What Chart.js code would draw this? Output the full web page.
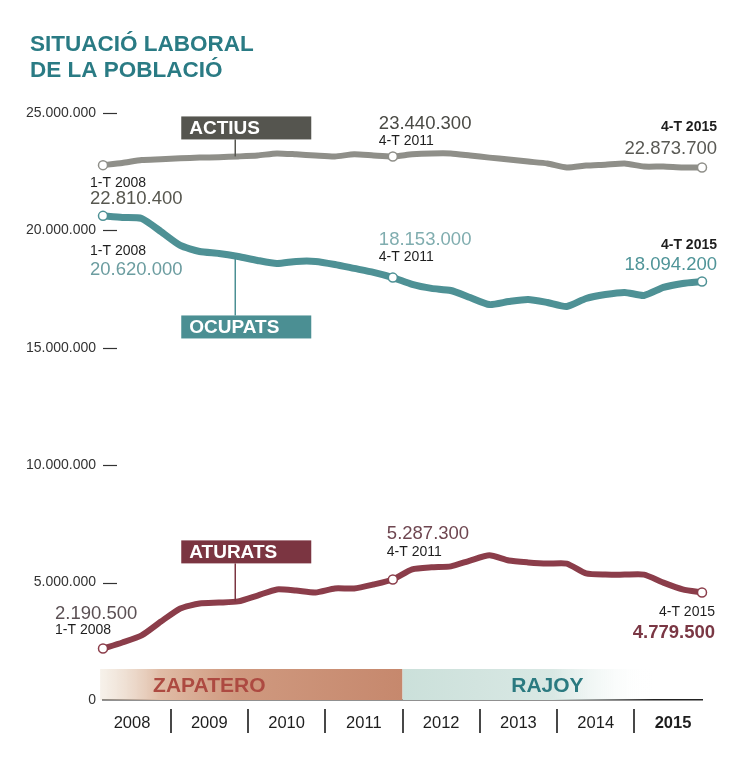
<!DOCTYPE html>
<html lang="ca">
<head>
<meta charset="UTF-8">
<title>Situació laboral de la població</title>
<script src="https://cdn.jsdelivr.net/npm/chart.js@4.4.0/dist/chart.umd.min.js"></script>
<style>
    body { margin: 0; background: #fff; }
    .chart-container { width: 749px; height: 760px; }
</style>
</head>
<body>
<div class="chart-container"><canvas id="myChart"></canvas></div>
<script>
// trimestres 1-T 2008 ... 4-T 2015
const trimestres = [];
for (let a = 2008; a <= 2015; a++) for (let t = 1; t <= 4; t++) trimestres.push(t + '-T ' + a);
const anys = ['2008', '2009', '2010', '2011', '2012', '2013', '2014', '2015'];
const valorsEix = [0, 5000000, 10000000, 15000000, 20000000, 25000000];
const titol = ['SITUACIÓ LABORAL', 'DE LA POBLACIÓ'];

// milions, llegits del gràfic
const actius = [22.78, 22.87, 23.00, 23.03, 23.07, 23.10, 23.12, 23.15,
                23.19, 23.28, 23.24, 23.19, 23.15, 23.24, 23.19, 23.15,
                23.24, 23.28, 23.28, 23.19, 23.10, 23.02, 22.93, 22.85,
                22.68, 22.76, 22.80, 22.85, 22.72, 22.72, 22.68, 22.68];
const ocupats = [20.62, 20.55, 20.51, 19.95, 19.36, 19.10, 19.02, 18.89,
                 18.72, 18.59, 18.68, 18.68, 18.55, 18.38, 18.21, 17.99,
                 17.70, 17.53, 17.44, 17.14, 16.84, 16.97, 17.06, 16.93,
                 16.76, 17.10, 17.27, 17.36, 17.23, 17.57, 17.74, 17.82];
const aturats = [2.19, 2.45, 2.75, 3.34, 3.90, 4.11, 4.15, 4.20,
                 4.45, 4.71, 4.66, 4.58, 4.75, 4.75, 4.92, 5.13,
                 5.56, 5.65, 5.69, 5.94, 6.16, 5.94, 5.86, 5.81,
                 5.81, 5.39, 5.34, 5.34, 5.34, 5.00, 4.71, 4.58];
const marcats = [0, 15, 31];

// períodes de govern, en índex de trimestre
const governs = [
    { nom: 'ZAPATERO', des: -0.15, fins: 15.5 },
    { nom: 'RAJOY', des: 15.5, fins: 28.5 }
];

const estilGoverns = {
    ZAPATERO: { stops: [[0, 'rgba(238,228,214,0.5)'], [0.2, '#e0bca6'], [0.45, '#cf997f'], [1, '#c6886d']], text: '#ad4a41', centre: 5.5 },
    RAJOY: { stops: [[0, '#cbe0da'], [0.6, '#d9e8e4'], [1, 'rgba(255,255,255,0)']], text: '#2b7a80', centre: 23 }
};

const caixes = [
    { text: 'ACTIUS', serie: 0, idx: 7, dy: -40, color: '#55554f' },
    { text: 'OCUPATS', serie: 1, idx: 7, dy: 59, color: '#4b8f93' },
    { text: 'ATURATS', serie: 2, idx: 7, dy: -61, color: '#7b3541' }
];

const textos = [
    { serie: 0, idx: 0, dx: -13, dy: 18, text: '1-T 2008', mida: 14 },
    { serie: 0, idx: 0, dx: -13, dy: 34, text: '22.810.400', mida: 18.5, color: '#57574f' },
    { serie: 0, idx: 15, dx: -14, dy: -33, text: '23.440.300', mida: 18.5, color: '#4a4a45' },
    { serie: 0, idx: 15, dx: -14, dy: -15, text: '4-T 2011', mida: 14 },
    { serie: 0, idx: 31, dx: 15, dy: -40, text: '4-T 2015', mida: 14, bold: true, align: 'right' },
    { serie: 0, idx: 31, dx: 15, dy: -19, text: '22.873.700', mida: 18.5, color: '#595954', align: 'right' },
    { serie: 1, idx: 0, dx: -13, dy: 35, text: '1-T 2008', mida: 14 },
    { serie: 1, idx: 0, dx: -13, dy: 54, text: '20.620.000', mida: 18.5, color: '#6c9da0' },
    { serie: 1, idx: 15, dx: -14, dy: -38, text: '18.153.000', mida: 18.5, color: '#80adaf' },
    { serie: 1, idx: 15, dx: -14, dy: -20, text: '4-T 2011', mida: 14 },
    { serie: 1, idx: 31, dx: 15, dy: -36, text: '4-T 2015', mida: 14, bold: true, align: 'right' },
    { serie: 1, idx: 31, dx: 15, dy: -17, text: '18.094.200', mida: 18.5, color: '#4f9498', align: 'right' },
    { serie: 2, idx: 0, dx: -48, dy: -35, text: '2.190.500', mida: 18.5, color: '#5b5054' },
    { serie: 2, idx: 0, dx: -48, dy: -18, text: '1-T 2008', mida: 14 },
    { serie: 2, idx: 15, dx: -6, dy: -46, text: '5.287.300', mida: 18.5, color: '#6e4650' },
    { serie: 2, idx: 15, dx: -6, dy: -27, text: '4-T 2011', mida: 14 },
    { serie: 2, idx: 31, dx: 13, dy: 20, text: '4-T 2015', mida: 14, align: 'right' },
    { serie: 2, idx: 31, dx: 13, dy: 40, text: '4.779.500', mida: 18.5, bold: true, color: '#7a3744', align: 'right' }
];

const fmt = v => String(v).replace(/\B(?=(\d{3})+(?!\d))/g, '.');
const FONT = "'Liberation Sans', Arial, sans-serif";
Chart.defaults.font.family = FONT;

const series = [actius, ocupats, aturats];
const punts = arr => arr.map((v, i) => ({ x: i, y: v * 1000000 }));

function pixel(chart, serie, idx) {
    const { x, y } = chart.scales;
    return [x.getPixelForValue(idx), y.getPixelForValue(series[serie][idx] * 1000000)];
}

const decoracio = {
    id: 'decoracio',
    beforeDatasetsDraw(chart) {
        const { ctx, chartArea, scales: { x } } = chart;
        ctx.save();
        governs.forEach(g => {
            const st = estilGoverns[g.nom];
            const x0 = x.getPixelForValue(g.des), x1 = x.getPixelForValue(g.fins);
            const grad = ctx.createLinearGradient(x0, 0, x1, 0);
            st.stops.forEach(s => grad.addColorStop(s[0], s[1]));
            ctx.fillStyle = grad;
            ctx.fillRect(x0, chartArea.bottom - 31, x1 - x0, 31);
            ctx.fillStyle = st.text;
            ctx.font = 'bold 21px ' + FONT;
            ctx.textAlign = 'center';
            ctx.textBaseline = 'middle';
            ctx.fillText(g.nom, x.getPixelForValue(st.centre), chartArea.bottom - 14);
        });
        ctx.restore();
    },
    afterDatasetsDraw(chart) {
        const { ctx } = chart;
        ctx.save();
        caixes.forEach(c => {
            const [px, py] = pixel(chart, c.serie, c.idx);
            const top = py + c.dy, h = 23, left = px - 57;
            ctx.strokeStyle = c.color;
            ctx.lineWidth = 1.5;
            ctx.beginPath();
            ctx.moveTo(px - 3, c.dy < 0 ? top + h : py);
            ctx.lineTo(px - 3, c.dy < 0 ? py : top);
            ctx.stroke();
            ctx.fillStyle = c.color;
            ctx.fillRect(left, top, 130, h);
            ctx.fillStyle = '#fff';
            ctx.font = 'bold 19px ' + FONT;
            ctx.textAlign = 'left';
            ctx.textBaseline = 'middle';
            ctx.fillText(c.text, left + 8, top + h / 2 + 1);
        });
        textos.forEach(t => {
            const [px, py] = pixel(chart, t.serie, t.idx);
            ctx.fillStyle = t.color || '#1e1e1e';
            ctx.font = (t.bold ? 'bold ' : '') + t.mida + 'px ' + FONT;
            ctx.textAlign = t.align || 'left';
            ctx.textBaseline = 'middle';
            ctx.fillText(t.text, px + t.dx, py + t.dy);
        });
        ctx.restore();
    },
    afterDraw(chart) {
        const { ctx, chartArea, scales: { x, y } } = chart;
        ctx.save();
        // títol
        ctx.fillStyle = '#2a7b84';
        ctx.font = 'bold 22.5px ' + FONT;
        ctx.textAlign = 'left';
        ctx.textBaseline = 'middle';
        titol.forEach((l, i) => ctx.fillText(l, 30, 45 + i * 26));
        // guions de l'eix vertical
        ctx.strokeStyle = '#333';
        ctx.lineWidth = 1.2;
        y.ticks.forEach(t => {
            if (!t.value) return;
            const py = Math.round(y.getPixelForValue(t.value)) + 0.5;
            ctx.beginPath();
            ctx.moveTo(chartArea.left, py);
            ctx.lineTo(chartArea.left + 14, py);
            ctx.stroke();
        });
        // separadors d'anys
        ctx.strokeStyle = '#1a1a1a';
        ctx.lineWidth = 1.6;
        for (let k = 1; k < anys.length; k++) {
            const px = Math.round(x.getPixelForValue(4 * k - 0.5));
            ctx.beginPath();
            ctx.moveTo(px, chartArea.bottom + 9);
            ctx.lineTo(px, chartArea.bottom + 33);
            ctx.stroke();
        }
        ctx.restore();
    }
};

const estilLinia = (color, gruix) => ({
    borderColor: color,
    backgroundColor: color,
    borderWidth: gruix,
    tension: 0.2,
    clip: false,
    borderCapStyle: 'round',
    borderJoinStyle: 'round',
    pointRadius: c => marcats.includes(c.dataIndex) ? 4.5 : 0,
    pointBackgroundColor: '#fff',
    pointBorderColor: color,
    pointBorderWidth: 1.5
});

const config = {
    type: 'line',
    data: {
        datasets: [
            { label: 'Actius', data: punts(actius), ...estilLinia('#8f8f89', 6) },
            { label: 'Ocupats', data: punts(ocupats), ...estilLinia('#4e9195', 7) },
            { label: 'Aturats', data: punts(aturats), ...estilLinia('#8b3d4a', 6) }
        ]
    },
    options: {
        responsive: true,
        maintainAspectRatio: false,
        animation: false,
        layout: { padding: { left: 0, right: 47, top: 113, bottom: 0 } },
        plugins: {
            legend: { display: false },
            tooltip: { enabled: false },
            title: { display: false }
        },
        scales: {
            x: {
                type: 'linear',
                min: 0,
                max: 31,
                afterBuildTicks: s => { s.ticks = anys.map((a, i) => ({ value: 1.5 + 4 * i })); },
                afterFit: s => { s.height = 60; },
                grid: { display: false, drawTicks: false },
                border: { color: '#222', width: 1.5 },
                ticks: {
                    padding: 14,
                    autoSkip: false,
                    maxRotation: 0,
                    color: '#1e1e1e',
                    callback: (v, i) => anys[i],
                    font: c => ({ size: 16.5, weight: c.index === anys.length - 1 ? 'bold' : 'normal' })
                }
            },
            y: {
                min: 0,
                max: 25000000,
                afterBuildTicks: s => { s.ticks = valorsEix.map(v => ({ value: v })); },
                afterFit: s => { s.width = 103; },
                grid: { display: false, drawTicks: false },
                border: { display: false },
                ticks: { padding: 7, color: '#333', font: { size: 14 }, callback: v => fmt(v) }
            }
        }
    },
    plugins: [decoracio]
};

const myChart = new Chart(document.getElementById('myChart'), config);
</script>
</body>
</html>
